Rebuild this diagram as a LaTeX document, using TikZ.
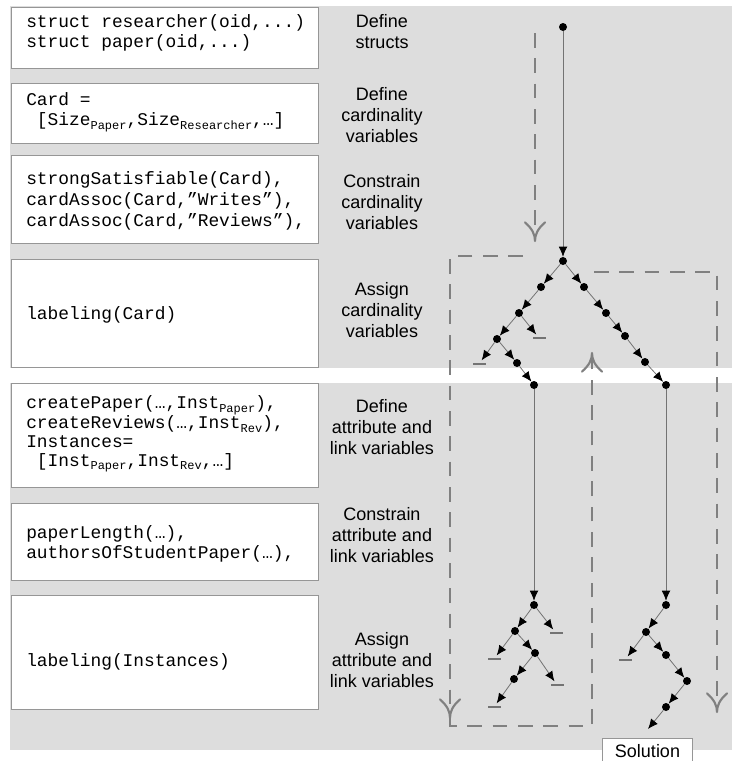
\documentclass[tikz,border=0pt]{standalone}
\usepackage{fontspec}
\setmainfont{Liberation Sans}
\setmonofont{Liberation Mono}
\usetikzlibrary{arrows.meta, decorations.markings, positioning}
\definecolor{bandgray}{RGB}{221,221,221}
\definecolor{framegray}{RGB}{150,150,150}
\definecolor{edgegray}{RGB}{115,115,115}
\definecolor{loopgray}{RGB}{128,128,128}
\tikzset{
    band/.style={fill=bandgray},
    codebox/.style={draw=framegray, fill=white, line width=0.75pt},
    codeText/.style={anchor=west, align=left, inner sep=0pt, font=\ttfamily\fontsize{13.4}{15.5}\selectfont},
    stepNote/.style={align=center, inner sep=0pt, font=\fontsize{13.5}{16}\selectfont},
    dot/.style={circle, fill=black, inner sep=0pt, minimum size=6pt},
    failMark/.style={rectangle, fill=edgegray, inner sep=0pt, minimum width=9.75pt, minimum height=1pt},
    searchEdge/.style={-{Latex[length=7.5pt, width=6.5pt, color=black]}, draw=edgegray, line width=0.6pt},
    failEdge/.style={searchEdge, shorten >=2.5pt},
    loopTip/.style={postaction={decorate}, decoration={markings, mark=at position 1 with {
        \draw[solid, loopgray, line width=1.6pt, line cap=round] (0,0) .. controls (-5pt,0) and (-9pt,2pt) .. (-14pt,7.5pt)
            (0,0) .. controls (-5pt,0) and (-9pt,-2pt) .. (-14pt,-7.5pt);}}},
    searchLoop/.style={draw=loopgray, line width=1.6pt, dash pattern=on 11pt off 8pt, loopTip},
    solBox/.style={draw=framegray, fill=white, line width=0.75pt, minimum width=68pt, minimum height=19.5pt, font=\fontsize{13.5}{16}\selectfont},
}
\newcommand{\codesub}[1]{\raisebox{-0.35ex}{\fontsize{9}{9}\selectfont #1}}

\begin{document}
\begin{tikzpicture}[x=0.75pt, y=-0.75pt]
    \useasboundingbox (0,0) rectangle (732,761);

    % background bands
    \fill[band] (10,6) rectangle (732,368);
    \fill[band] (10,383) rectangle (732,750);

    % code boxes
    \draw[codebox] (11,7) rectangle (318,68);
    \draw[codebox] (11,83) rectangle (318,143);
    \draw[codebox] (11,155) rectangle (318,243);
    \draw[codebox] (11,259) rectangle (318,367);
    \draw[codebox] (11,383) rectangle (318,487);
    \draw[codebox] (11,503) rectangle (318,580);
    \draw[codebox] (11,595) rectangle (318,709);

    \node[codeText] (c1) at (26,33) {struct researcher(oid,...)\\struct paper(oid,...)};
    \node[codeText] (c2) at (26,112) {Card =\\\hspace*{0.6em}[Size\codesub{Paper},Size\codesub{Researcher},…]};
    \node[codeText] (c3) at (26,201) {strongSatisfiable(Card),\\cardAssoc(Card,”Writes”),\\cardAssoc(Card,”Reviews”),};
    \node[codeText] (c4) at (26,315) {labeling(Card)};
    \node[codeText, font=\ttfamily\fontsize{13.4}{14}\selectfont] (c5) at (26,434) {createPaper(…,Inst\codesub{Paper}),\\createReviews(…,Inst\codesub{Rev}),\\Instances=\\\hspace*{0.6em}[Inst\codesub{Paper},Inst\codesub{Rev},…]};
    \node[codeText] (c6) at (26,544) {paperLength(…),\\authorsOfStudentPaper(…),};
    \node[codeText] (c7) at (26,662) {labeling(Instances)};

    % step notes
    \node[stepNote] (n1) at (382,31.5) {Define\\structs};
    \node[stepNote] (n2) at (382,115) {Define\\cardinality\\variables};
    \node[stepNote] (n3) at (382,202) {Constrain\\cardinality\\variables};
    \node[stepNote] (n4) at (382,310) {Assign\\cardinality\\variables};
    \node[stepNote] (n5) at (382,427) {Define\\attribute and\\link variables};
    \node[stepNote] (n6) at (382,535) {Constrain\\attribute and\\link variables};
    \node[stepNote] (n7) at (382,660) {Assign\\attribute and\\link variables};

    % search loops
    \coordinate (d1s) at (535,33);
    \coordinate (d1e) at (535,241);
    \coordinate (l1s) at (523,256);
    \coordinate (l1m) at (450,718);
    \coordinate (l1c) at (592,726);
    \coordinate (l1e) at (592,353);
    \coordinate (r1s) at (594,272);
    \coordinate (r1e) at (717,712);
    \draw[searchLoop] (d1s) -- (d1e);
    \draw[searchLoop] (l1s) -| (l1m);
    \draw[searchLoop] (l1m) |- (l1c) -- (l1e);
    \draw[searchLoop] (r1s) -| (r1e);

    % search tree, cardinalities
    \node[dot] (root) at (563,27) {};
    \node[dot] (a) at (563,261) {};
    \node[dot] (b) at (541,287) {};
    \node[dot] (d) at (519,313) {};
    \node[dot] (e) at (497,339) {};
    \node[dot] (f) at (517,363) {};
    \node[dot] (g) at (534,385) {};
    \node[failMark] (x1) at (539,338) {};
    \node[failMark] (x2) at (479,364) {};
    \node[dot] (c) at (584,287) {};
    \node[dot] (cc) at (606,313) {};
    \node[dot] (ccc) at (625,336) {};
    \node[dot] (cccc) at (645,362) {};
    \node[dot] (ccccc) at (666,385) {};

    \draw[searchEdge] (root) -- (a);
    \draw[searchEdge] (a) -- (b);
    \draw[searchEdge] (b) -- (d);
    \draw[searchEdge] (d) -- (e);
    \draw[failEdge] (d) -- (x1);
    \draw[failEdge] (e) -- (x2);
    \draw[searchEdge] (e) -- (f);
    \draw[searchEdge] (f) -- (g);
    \draw[searchEdge] (a) -- (c);
    \draw[searchEdge] (c) -- (cc);
    \draw[searchEdge] (cc) -- (ccc);
    \draw[searchEdge] (ccc) -- (cccc);
    \draw[searchEdge] (cccc) -- (ccccc);

    % search tree, instances (left)
    \node[dot] (g2) at (534,605) {};
    \node[dot] (h) at (515,631) {};
    \node[dot] (i) at (535,653) {};
    \node[dot] (j) at (514,679) {};
    \node[failMark] (x3) at (556,633) {};
    \node[failMark] (x4) at (494,659) {};
    \node[failMark] (x5) at (557,685) {};
    \node[failMark] (x6) at (494,707) {};

    \draw[searchEdge] (g) -- (g2);
    \draw[searchEdge] (g2) -- (h);
    \draw[failEdge] (g2) -- (x3);
    \draw[failEdge] (h) -- (x4);
    \draw[searchEdge] (h) -- (i);
    \draw[searchEdge] (i) -- (j);
    \draw[failEdge] (i) -- (x5);
    \draw[failEdge] (j) -- (x6);

    % search tree, instances (right)
    \node[dot] (k1) at (666,605) {};
    \node[dot] (k2) at (646,632) {};
    \node[dot] (k3) at (666,655) {};
    \node[dot] (k4) at (687,681) {};
    \node[dot] (k5) at (666,707) {};
    \node[failMark] (x7) at (625,660) {};
    \coordinate (solIn) at (648,729);
    \node[solBox] (sol) at (647.5,751) {Solution};

    \draw[searchEdge] (ccccc) -- (k1);
    \draw[searchEdge] (k1) -- (k2);
    \draw[failEdge] (k2) -- (x7);
    \draw[searchEdge] (k2) -- (k3);
    \draw[searchEdge] (k3) -- (k4);
    \draw[searchEdge] (k4) -- (k5);
    \draw[searchEdge] (k5) -- (solIn);

\end{tikzpicture}
\end{document}
